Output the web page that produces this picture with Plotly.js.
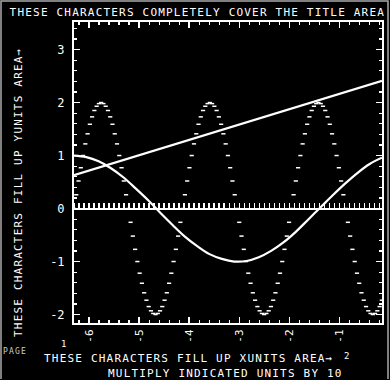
<!DOCTYPE html>
<html><head><meta charset="utf-8">
<script src="https://cdn.plot.ly/plotly-3.0.1.min.js"></script>
<style>
html,body{margin:0;padding:0;background:#000;}
#chart{width:390px;height:380px;}
.annotation-text, .gtitle { letter-spacing: 1.2px; }
</style></head><body><div id="chart"></div>
<script>
const xTickVals = [-6, -5, -4, -3, -2, -1];
const xTickText = ['-6', '-5', '-4', '-3', '-2', '-1'];
const yTickVals = [-2, -1, 0, 1, 2, 3];
const yTickText = ['-2', '-1', '0', '1', '2', '3'];

const cosStart = -6.3, cosStep = 0.246;
const cosValues = [1.00, 0.97, 0.89, 0.76, 0.59, 0.38, 0.16, -0.08, -0.31, -0.53, -0.71, -0.86, -0.95,
  -1.00, -0.99, -0.92, -0.80, -0.64, -0.44, -0.21, 0.02, 0.25, 0.47, 0.67, 0.84, 0.96];

const dotStart = -6.3, dotStep = 0.0452;
const dotValues = [
  0, 0.26, 0.52, 0.77, 1, 1.22, 1.41, 1.59, 1.73, 1.85, 1.93, 1.98, 2, 1.98, 1.93, 1.85, 1.73, 1.59, 1.41, 1.22, 1, 0.77, 0.52, 0.26,
  0, -0.26, -0.52, -0.77, -1, -1.22, -1.41, -1.59, -1.73, -1.85, -1.93, -1.98, -2, -1.98, -1.93, -1.85, -1.73, -1.59, -1.41, -1.22, -1, -0.77, -0.52, -0.26,
  0, 0.26, 0.52, 0.77, 1, 1.22, 1.41, 1.59, 1.73, 1.85, 1.93, 1.98, 2, 1.98, 1.93, 1.85, 1.73, 1.59, 1.41, 1.22, 1, 0.77, 0.52, 0.26,
  0, -0.26, -0.52, -0.77, -1, -1.22, -1.41, -1.59, -1.73, -1.85, -1.93, -1.98, -2, -1.98, -1.93, -1.85, -1.73, -1.59, -1.41, -1.22, -1, -0.77, -0.52, -0.26,
  0, 0.26, 0.52, 0.77, 1, 1.22, 1.41, 1.59, 1.73, 1.85, 1.93, 1.98, 2, 1.98, 1.93, 1.85, 1.73, 1.59, 1.41, 1.22, 1, 0.77, 0.52, 0.26,
  0, -0.26, -0.52, -0.77, -1, -1.22, -1.41, -1.59, -1.73, -1.85, -1.93, -1.98, -2, -1.98, -1.93, -1.85, -1.73
];

const lineX = [-6.3, -0.15];
const lineY = [0.63, 2.41];

const xRange = [-6.3, -0.15];
const yRange = [-2.16, 3.52];

const FONT = 'DejaVu Sans Mono';
const W = 'white';

const traces = [
  {type: 'scatter', mode: 'markers', x0: dotStart, dx: dotStep, y: dotValues,
   marker: {symbol: 'line-ew', size: 3, color: W, line: {color: W, width: 1.5}},
   hoverinfo: 'skip', showlegend: false},
  {type: 'scatter', mode: 'lines', x0: cosStart, dx: cosStep, y: cosValues,
   line: {color: W, width: 2.2, shape: 'spline'}, hoverinfo: 'skip', showlegend: false},
  {type: 'scatter', mode: 'lines', x: lineX, y: lineY, xaxis: 'x2',
   line: {color: W, width: 2.2}, hoverinfo: 'skip', showlegend: false}
];

const px = v => (v - 74) / 308;
const py = v => (323 - v) / 301;

const layout = {
  width: 390, height: 380,
  margin: {l: 74, r: 8, t: 22, b: 57, pad: 0},
  paper_bgcolor: '#000', plot_bgcolor: '#000',
  font: {family: FONT, color: W, size: 12},
  showlegend: false,
  title: {text: 'THESE CHARACTERS COMPLETELY COVER THE TITLE AREA',
    font: {family: FONT, size: 11, color: W},
    xref: 'container', x: 0.506, xanchor: 'center',
    yref: 'container', y: 0.968, yanchor: 'middle'},
  xaxis: {range: xRange, showgrid: false, zeroline: false,
    showline: true, linecolor: W, linewidth: 2, mirror: 'ticks',
    ticks: 'inside', ticklen: 6, tickwidth: 1.5, tickcolor: W,
    tickmode: 'array', tickvals: xTickVals, ticktext: xTickText, tickangle: -90,
    tickfont: {family: FONT, size: 11, color: W},
    minor: {tickmode: 'linear', tick0: 0, dtick: 0.2, ticks: 'inside', ticklen: 3, tickwidth: 1.2, tickcolor: W, showgrid: false}},
  xaxis2: {range: xRange, overlaying: 'x', anchor: 'free', position: 0.3803, side: 'top',
    showgrid: false, zeroline: false, showline: true, linecolor: W, linewidth: 2,
    ticks: 'outside', tickmode: 'linear', tick0: 0, dtick: 0.1, ticklen: 5, tickwidth: 1.5, tickcolor: W,
    showticklabels: false},
  yaxis: {range: yRange, showgrid: false, zeroline: false,
    showline: true, linecolor: W, linewidth: 2, mirror: 'ticks',
    ticks: 'inside', ticklen: 6, tickwidth: 1.5, tickcolor: W,
    tickmode: 'array', tickvals: yTickVals, ticktext: yTickText,
    ticklabelstandoff: 5,
    tickfont: {family: FONT, size: 12, color: W},
    minor: {tickmode: 'linear', tick0: 0, dtick: 0.2, ticks: 'inside', ticklen: 3, tickwidth: 1.2, tickcolor: W, showgrid: false}},
  annotations: [
    {text: 'THESE CHARACTERS FILL UP YUNITS AREA\u2192', textangle: -90,
     xref: 'paper', yref: 'paper', x: px(18), y: py(193), xanchor: 'center', yanchor: 'middle',
     showarrow: false, font: {family: FONT, size: 11, color: W}},
    {text: 'THESE CHARACTERS FILL UP XUNITS AREA\u2192',
     xref: 'paper', yref: 'paper', x: px(188), y: py(359), xanchor: 'center', yanchor: 'middle',
     showarrow: false, font: {family: FONT, size: 11, color: W}},
    {text: '2',
     xref: 'paper', yref: 'paper', x: px(347), y: py(356), xanchor: 'center', yanchor: 'middle',
     showarrow: false, font: {family: FONT, size: 9, color: W}},
    {text: 'MULTIPLY INDICATED UNITS BY 10',
     xref: 'paper', yref: 'paper', x: px(225), y: py(373.5), xanchor: 'center', yanchor: 'middle',
     showarrow: false, font: {family: FONT, size: 11, color: W}},
    {text: 'PAGE',
     xref: 'paper', yref: 'paper', x: px(15), y: py(351), xanchor: 'center', yanchor: 'middle',
     showarrow: false, font: {family: FONT, size: 8, color: '#cccccc'}},
    {text: '1',
     xref: 'paper', yref: 'paper', x: px(64), y: py(344), xanchor: 'center', yanchor: 'middle',
     showarrow: false, font: {family: FONT, size: 9, color: W}}
  ],
  shapes: [
    {type: 'path', xref: 'paper', yref: 'paper',
     path: 'M ' + px(1) + ',' + py(379) + ' L ' + px(1) + ',' + py(1) + ' L ' + px(388) + ',' + py(1) + ' L ' + px(388) + ',' + py(379),
     line: {color: '#aaaaaa', width: 1.5}}
  ]
};

Plotly.newPlot('chart', traces, layout, {displayModeBar: false, staticPlot: true});
</script></body></html>
